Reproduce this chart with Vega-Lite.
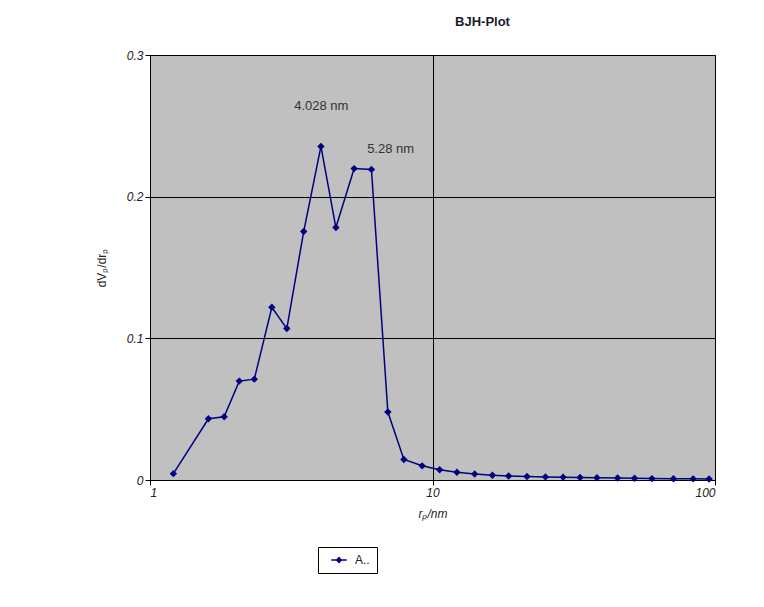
{
  "$schema": "https://vega.github.io/schema/vega-lite/v6.json",
  "autosize": {"type": "none"},
  "width": 565,
  "height": 425,
  "padding": {"left": 150, "top": 55, "right": 49, "bottom": 127},
  "background": "white",
  "title": {"text": "BJH-Plot", "font": "Liberation Sans", "fontSize": 13, "fontWeight": "bold", "color": "#1a1a2e", "anchor": "middle", "dx": 50, "offset": 20},
  "config": {
    "view": {"fill": "#c0c0c0", "stroke": "#555555", "strokeWidth": 1},
    "axis": {
      "grid": true,
      "gridColor": "#000000",
      "gridOpacity": 1,
      "gridWidth": 1,
      "domainColor": "#000000",
      "tickColor": "#000000",
      "tickSize": 5,
      "labelFont": "Liberation Sans",
      "labelFontStyle": "italic",
      "labelFontSize": 12,
      "labelColor": "#222222",
      "titleFont": "Liberation Sans",
      "titleFontWeight": "normal",
      "titleFontSize": 12,
      "titleColor": "#222222"
    }
  },
  "datasets": {
    "bjh": [
      {"r": 1.21, "dv": 0.0045, "series": "A.."},
      {"r": 1.61, "dv": 0.0432, "series": "A.."},
      {"r": 1.83, "dv": 0.0446, "series": "A.."},
      {"r": 2.07, "dv": 0.0698, "series": "A.."},
      {"r": 2.34, "dv": 0.0712, "series": "A.."},
      {"r": 2.70, "dv": 0.1219, "series": "A.."},
      {"r": 3.05, "dv": 0.1069, "series": "A.."},
      {"r": 3.50, "dv": 0.1754, "series": "A.."},
      {"r": 4.028, "dv": 0.2355, "series": "A.."},
      {"r": 4.55, "dv": 0.1782, "series": "A.."},
      {"r": 5.28, "dv": 0.2198, "series": "A.."},
      {"r": 6.08, "dv": 0.2192, "series": "A.."},
      {"r": 6.95, "dv": 0.048, "series": "A.."},
      {"r": 7.92, "dv": 0.0145, "series": "A.."},
      {"r": 9.19, "dv": 0.0100, "series": "A.."},
      {"r": 10.6, "dv": 0.0072, "series": "A.."},
      {"r": 12.2, "dv": 0.0055, "series": "A.."},
      {"r": 14.1, "dv": 0.0042, "series": "A.."},
      {"r": 16.3, "dv": 0.0033, "series": "A.."},
      {"r": 18.6, "dv": 0.0028, "series": "A.."},
      {"r": 21.6, "dv": 0.0025, "series": "A.."},
      {"r": 25.1, "dv": 0.0022, "series": "A.."},
      {"r": 29.0, "dv": 0.0020, "series": "A.."},
      {"r": 33.3, "dv": 0.0018, "series": "A.."},
      {"r": 38.2, "dv": 0.0016, "series": "A.."},
      {"r": 45.2, "dv": 0.0014, "series": "A.."},
      {"r": 51.9, "dv": 0.0012, "series": "A.."},
      {"r": 59.8, "dv": 0.0010, "series": "A.."},
      {"r": 71.3, "dv": 0.0009, "series": "A.."},
      {"r": 83.7, "dv": 0.0008, "series": "A.."},
      {"r": 95.3, "dv": 0.0007, "series": "A.."}
    ],
    "labels": [
      {"r": 3.24, "dv": 0.264, "label": "4.028 nm"},
      {"r": 5.87, "dv": 0.234, "label": "5.28 nm"}
    ]
  },
  "layer": [
    {
      "data": {"name": "bjh"},
      "mark": {"type": "line", "strokeWidth": 1.5, "point": {"shape": "diamond", "size": 55, "filled": true}},
      "encoding": {
        "x": {"field": "r", "type": "quantitative", "scale": {"type": "log", "domain": [1, 100], "nice": false}, "axis": {"values": [1, 10, 100], "format": "~g", "title": "rₚ/nm", "titleFontStyle": "italic", "titlePadding": 10}},
        "y": {"field": "dv", "type": "quantitative", "scale": {"domain": [0, 0.3], "nice": false}, "axis": {"values": [0, 0.1, 0.2, 0.3], "format": ".1~f", "title": "dVₚ/drₚ", "titlePadding": 18}},
        "color": {"field": "series", "type": "nominal", "scale": {"range": ["#000080"]}, "legend": {"title": null, "orient": "none", "legendX": 168, "legendY": 492, "strokeColor": "#000000", "padding": 7, "symbolType": "M-2,0H2M0,-0.6L0.6,0L0,0.6L-0.6,0Z", "symbolSize": 60, "symbolStrokeWidth": 1.5, "symbolFillColor": "#000080", "symbolStrokeColor": "#000080", "symbolOffset": 8, "labelOffset": 10, "labelFont": "Liberation Sans", "labelFontSize": 12, "labelColor": "#222222"}}
      }
    },
    {
      "data": {"name": "labels"},
      "mark": {"type": "text", "align": "left", "baseline": "middle", "font": "Liberation Sans", "fontSize": 13, "color": "#333333"},
      "encoding": {
        "x": {"field": "r", "type": "quantitative", "scale": {"type": "log"}},
        "y": {"field": "dv", "type": "quantitative"},
        "text": {"field": "label"}
      }
    }
  ]
}
